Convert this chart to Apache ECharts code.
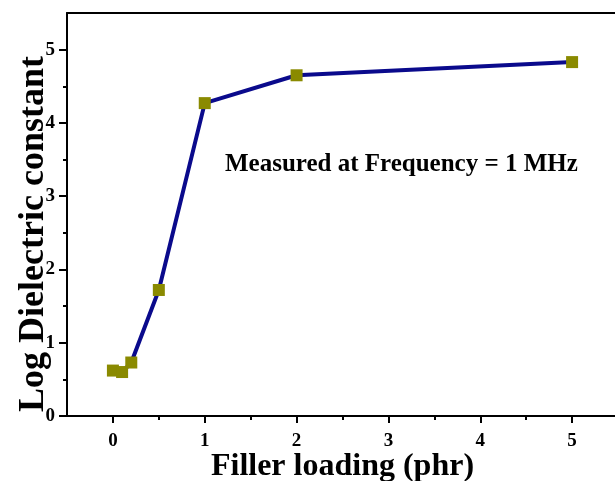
<!DOCTYPE html>
<html>
<head>
<meta charset="utf-8">
<script src="https://cdn.jsdelivr.net/npm/echarts@6/dist/echarts.min.js"></script>
<style>
 html, body { margin: 0; padding: 0; background: #fff; }
 #main { width: 615px; height: 481px; }
</style>
</head>
<body>
<div id="main"></div>
<script>
 // data
 var filler_phr = [0, 0.1, 0.2, 0.5, 1, 2, 5];
 var log_dielectric = [0.62, 0.60, 0.73, 1.72, 4.27, 4.65, 4.83];
 var x_ticks = [0, 1, 2, 3, 4, 5];
 var x_minor = [0.5, 1.5, 2.5, 3.5, 4.5];
 var y_ticks = [0, 1, 2, 3, 4, 5];
 var y_minor = [0.5, 1.5, 2.5, 3.5, 4.5];
 var note_text = 'Measured at Frequency = 1 MHz';
 var y_title = 'Log Dielectric constant';

 var myChart = echarts.init(document.getElementById('main'));
 var font = '"Liberation Serif", "Times New Roman", serif';

 var points = [];
 for (var i = 0; i < filler_phr.length; i++) {
   points.push([filler_phr[i], log_dielectric[i]]);
 }

 var option = {
   backgroundColor: '#fff',
   animation: false,
   grid: {
     left: 67,
     right: -3,
     top: 13,
     bottom: 65,
     containLabel: false,
     outerBoundsMode: 'none'
   },
   xAxis: [{
     type: 'value',
     min: -0.5,
     max: 5.5,
     name: 'Filler loading (phr)',
     nameLocation: 'middle',
     nameGap: 35,
     nameMoveOverlap: false,
     nameTextStyle: { fontFamily: font, fontWeight: 'bold', fontSize: 32, color: '#000' },
     axisLine: { onZero: false, lineStyle: { color: '#000', width: 2 } },
     axisTick: { show: true, inside: false, length: 7, customValues: x_ticks, lineStyle: { color: '#000', width: 2 } },
     axisLabel: { customValues: x_ticks, margin: 16, fontFamily: font, fontWeight: 'bold', fontSize: 19, color: '#000' },
     splitLine: { show: false }
   }, {
     type: 'value',
     min: -0.5,
     max: 5.5,
     position: 'bottom',
     axisLine: { show: false, onZero: false },
     axisTick: { show: true, inside: false, length: 4, customValues: x_minor, lineStyle: { color: '#000', width: 2 } },
     axisLabel: { show: false },
     splitLine: { show: false }
   }, {
     // top frame line
     type: 'value',
     min: -0.5,
     max: 5.5,
     position: 'top',
     axisLine: { show: true, onZero: false, lineStyle: { color: '#000', width: 2 } },
     axisTick: { show: false },
     axisLabel: { show: false },
     splitLine: { show: false }
   }],
   yAxis: [{
     type: 'value',
     min: 0,
     max: 5.5,
     axisLine: { show: true, onZero: false, lineStyle: { color: '#000', width: 2 } },
     axisTick: { show: true, inside: false, length: 8, customValues: y_ticks, lineStyle: { color: '#000', width: 2 } },
     axisLabel: { customValues: y_ticks, margin: 12, fontFamily: font, fontWeight: 'bold', fontSize: 19, color: '#000' },
     splitLine: { show: false }
   }, {
     type: 'value',
     min: 0,
     max: 5.5,
     position: 'left',
     axisLine: { show: false, onZero: false },
     axisTick: { show: true, inside: false, length: 4, customValues: y_minor, lineStyle: { color: '#000', width: 2 } },
     axisLabel: { show: false },
     splitLine: { show: false }
   }],
   graphic: [{
     type: 'text',
     x: 34,
     y: 234,
     rotation: Math.PI / 2,
     style: { text: y_title, font: 'bold 36px ' + font, fill: '#000', textAlign: 'center', textVerticalAlign: 'middle' }
   }, {
     type: 'text',
     x: 225,
     y: 165,
     style: { text: note_text, font: 'bold 25px ' + font, fill: '#000', textAlign: 'left', textVerticalAlign: 'middle' }
   }],
   series: [{
     name: 'log',
     type: 'line',
     data: points,
     symbol: 'rect',
     symbolSize: 12,
     lineStyle: { color: '#0A0A8C', width: 4 },
     itemStyle: { color: '#8A8A00', borderWidth: 0 }
   }]
 };
 myChart.setOption(option);
</script>
</body>
</html>
